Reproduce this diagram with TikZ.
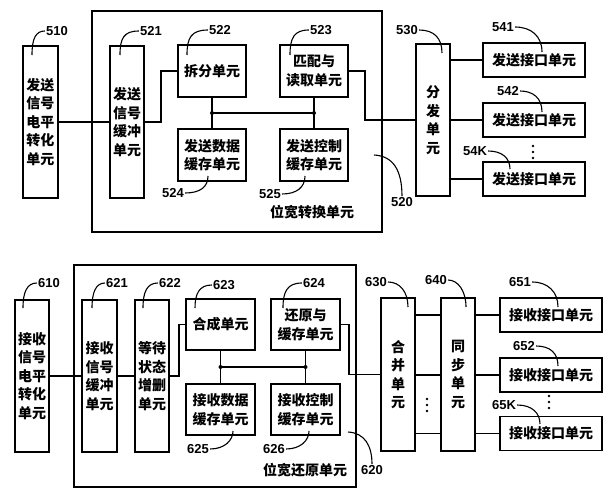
\documentclass[tikz,border=0pt]{standalone}
\usepackage{fontspec}
\setmainfont{Liberation Sans}
\newfontfamily\cjk{Noto Sans CJK SC}
\newcommand\cjkf{\cjk\bfseries\fontsize{14}{18.5}\selectfont}
\newcommand\numf{\bfseries\fontsize{13}{13}\selectfont}
\begin{document}
\begin{tikzpicture}[x=1pt,y=-1pt,
  box/.style={draw,line width=1.7pt,inner sep=0pt,align=center,font=\cjkf},
  vbox/.style={box,minimum width=34pt,minimum height=152pt},
  mbox/.style={box,minimum width=68pt,minimum height=52pt},
  ibox/.style={box,minimum width=102pt,minimum height=34pt},
  frame/.style={draw,line width=1.7pt,inner sep=0pt},
  wire/.style={line width=1.4pt},
  lead/.style={line width=1.1pt},
  num/.style={font=\numf,inner sep=1pt},
  ttl/.style={font=\cjkf,inner sep=0pt},
  dot/.style={fill=black}]
\useasboundingbox (0,0) rectangle (608,500);

% ---------------- top ----------------
\node[frame,minimum width=290pt,minimum height=221pt] (b520) at (237,121.5) {};
\node[vbox,minimum width=35pt] (b510) at (40.5,122) {发送\\信号\\电平\\转化\\单元};
\node[vbox] (b521) at (127,122) {发送\\信号\\缓冲\\单元};
\node[mbox] (b522) at (212,71) {拆分单元};
\node[mbox] (b524) at (212,155) {发送数据\\缓存单元};
\node[mbox] (b523) at (314,71) {匹配与\\读取单元};
\node[mbox] (b525) at (314,155) {发送控制\\缓存单元};
\node[vbox] (b530) at (433,120) {分\\发\\单\\元};
\node[ibox] (b541) at (534,60) {发送接口单元};
\node[ibox] (b542) at (534,120) {发送接口单元};
\node[ibox] (b54K) at (534,179) {发送接口单元};

\coordinate (j1) at (212,113);
\coordinate (j2) at (314,113);
\draw[wire] (b510) -- (b521);
\draw[wire] (b521.east) -- ++(16,0) |- (b522.west);
\draw[wire] (b522.south) -- (b524.north);
\draw[wire] (b523.south) -- (b525.north);
\draw[wire] (j1) -- (j2);
\fill[dot] (j1) circle (2pt) (j2) circle (2pt);
\draw[wire] (b523.east) -- ++(16,0) |- (b530.west);
\draw[wire] (b530.east |- b541.west) -- (b541.west);
\draw[wire] (b530.east |- b542.west) -- (b542.west);
\draw[wire] (b530.east |- b54K.west) -- (b54K.west);
\foreach \yy in {146,152,158} \fill[dot] (533,\yy) circle (1.4pt);

\node[num] (l510) at (57,31) {510};
\node[num] (l521) at (151,31) {521};
\node[num] (l522) at (220,30) {522};
\node[num] (l523) at (321,30) {523};
\node[num] (l530) at (407,30) {530};
\node[num] (l541) at (503,27) {541};
\node[num] (l542) at (508,91) {542};
\node[num] (l54K) at (475,151) {54K};
\node[num] (l524) at (173,193) {524};
\node[num] (l525) at (270,194) {525};
\node[num] (l520) at (402,202) {520};
\node[ttl] (t520) at (312,212) {位宽转换单元};

\coordinate (p510) at (32,55);
\coordinate (p521) at (120,55);
\coordinate (p522) at (187,55);
\coordinate (p523) at (290,55);
\coordinate (p530) at (442,53);
\coordinate (p541) at (542,52);
\coordinate (p542) at (542,112);
\coordinate (p54K) at (510,169);
\coordinate (p524) at (208,176);
\coordinate (p525) at (305,176);
\coordinate (p520) at (374,155);

\draw[lead] (p510) .. controls (32,38) and (36,31) .. (l510.west);
\draw[lead] (p521) .. controls (120,38) and (124,31) .. (l521.west);
\draw[lead] (p522) .. controls (187,38) and (191,30) .. (l522.west);
\draw[lead] (p523) .. controls (290,38) and (294,30) .. (l523.west);
\draw[lead] (l530.east) .. controls (434,30) and (442,38) .. (p530);
\draw[lead] (l541.east) .. controls (531,27) and (542,36) .. (p541);
\draw[lead] (l542.east) .. controls (533,91) and (542,98) .. (p542);
\draw[lead] (l54K.east) .. controls (502,151) and (510,158) .. (p54K);
\draw[lead] (l524.east) .. controls (200,193) and (208,187) .. (p524);
\draw[lead] (l525.east) .. controls (297,194) and (305,187) .. (p525);
\draw[lead] (p520) .. controls (393,156) and (402,170) .. (l520.north);

% ---------------- bottom ----------------
\node[frame,minimum width=282pt,minimum height=222pt] (b620) at (215,376) {};
\node[vbox] (b610) at (32,376) {接收\\信号\\电平\\转化\\单元};
\node[vbox,minimum width=35pt] (b621) at (99.5,376) {接收\\信号\\缓冲\\单元};
\node[vbox] (b622) at (152,376) {等待\\状态\\增删\\单元};
\node[mbox,minimum width=69pt,minimum height=51pt] (b623) at (220.5,324.5) {合成单元};
\node[mbox,minimum width=69pt,minimum height=51pt] (b625) at (220.5,409.5) {接收数据\\缓存单元};
\node[mbox,minimum width=69pt,minimum height=51pt] (b624) at (305.5,324.5) {还原与\\缓存单元};
\node[mbox,minimum width=69pt,minimum height=51pt] (b626) at (305.5,409.5) {接收控制\\缓存单元};
\node[vbox,minimum height=153pt] (b630) at (398,374.5) {合\\并\\单\\元};
\node[vbox,minimum height=153pt] (b640) at (458,374.5) {同\\步\\单\\元};
\node[ibox] (b651) at (551,315) {接收接口单元};
\node[ibox] (b652) at (551,375) {接收接口单元};
\node[ibox] (b65K) at (551,433.5) {接收接口单元};

\coordinate (j3) at (220.5,367);
\coordinate (j4) at (305.5,367);
\draw[wire] (b610) -- (b621);
\draw[wire] (b621) -- (b622);
\draw[wire] (b622.east) -- ++(9,0) |- (b623.west);
\draw[wire] (b623.south) -- (b625.north);
\draw[wire] (b624.south) -- (b626.north);
\draw[wire] (j3) -- (j4);
\fill[dot] (j3) circle (2pt) (j4) circle (2pt);
\draw[wire] (b624.east) -- ++(8,0) |- (b630.west);
\draw[wire] (b630.east |- b651.west) -- (b640.west |- b651.west);
\draw[wire] (b630.east |- b652.west) -- (b640.west |- b652.west);
\draw[wire] (b630.east |- b65K.west) -- (b640.west |- b65K.west);
\draw[wire] (b640.east |- b651.west) -- (b651.west);
\draw[wire] (b640.east |- b652.west) -- (b652.west);
\draw[wire] (b640.east |- b65K.west) -- (b65K.west);
\foreach \yy in {399,405,411} \fill[dot] (427,\yy) circle (1.4pt);
\foreach \yy in {396,402,408} \fill[dot] (549,\yy) circle (1.4pt);

\node[num] (l610) at (49,283) {610};
\node[num] (l621) at (117,283) {621};
\node[num] (l622) at (170,283) {622};
\node[num] (l623) at (224,285) {623};
\node[num] (l624) at (314,283) {624};
\node[num] (l625) at (198,449) {625};
\node[num] (l626) at (274,449) {626};
\node[num] (l620) at (372,470) {620};
\node[ttl] (t620) at (305,470) {位宽还原单元};
\node[num] (l630) at (376,282) {630};
\node[num] (l640) at (436,280) {640};
\node[num] (l651) at (520,282) {651};
\node[num] (l652) at (524,346) {652};
\node[num] (l65K) at (504,405) {65K};

\coordinate (p610) at (23,308);
\coordinate (p621) at (92,308);
\coordinate (p622) at (143,308);
\coordinate (p623) at (195,308);
\coordinate (p624) at (283,308);
\coordinate (p625) at (233,431);
\coordinate (p626) at (309,431);
\coordinate (p620) at (348,432);
\coordinate (p630) at (408,307);
\coordinate (p640) at (466,307);
\coordinate (p651) at (558,307);
\coordinate (p652) at (558,366);
\coordinate (p65K) at (540,424);

\draw[lead] (p610) .. controls (23,292) and (27,283) .. (l610.west);
\draw[lead] (p621) .. controls (92,292) and (96,283) .. (l621.west);
\draw[lead] (p622) .. controls (143,292) and (147,283) .. (l622.west);
\draw[lead] (p623) .. controls (195,294) and (199,285) .. (l623.west);
\draw[lead] (p624) .. controls (283,292) and (287,283) .. (l624.west);
\draw[lead] (l625.east) .. controls (225,449) and (233,440) .. (p625);
\draw[lead] (l626.east) .. controls (301,449) and (309,440) .. (p626);
\draw[lead] (p620) .. controls (365,433) and (372,446) .. (l620.north);
\draw[lead] (l630.east) .. controls (400,282) and (408,292) .. (p630);
\draw[lead] (l640.east) .. controls (458,280) and (466,291) .. (p640);
\draw[lead] (l651.east) .. controls (548,282) and (558,292) .. (p651);
\draw[lead] (l652.east) .. controls (550,346) and (558,353) .. (p652);
\draw[lead] (l65K.east) .. controls (532,405) and (540,413) .. (p65K);
\end{tikzpicture}
\end{document}
